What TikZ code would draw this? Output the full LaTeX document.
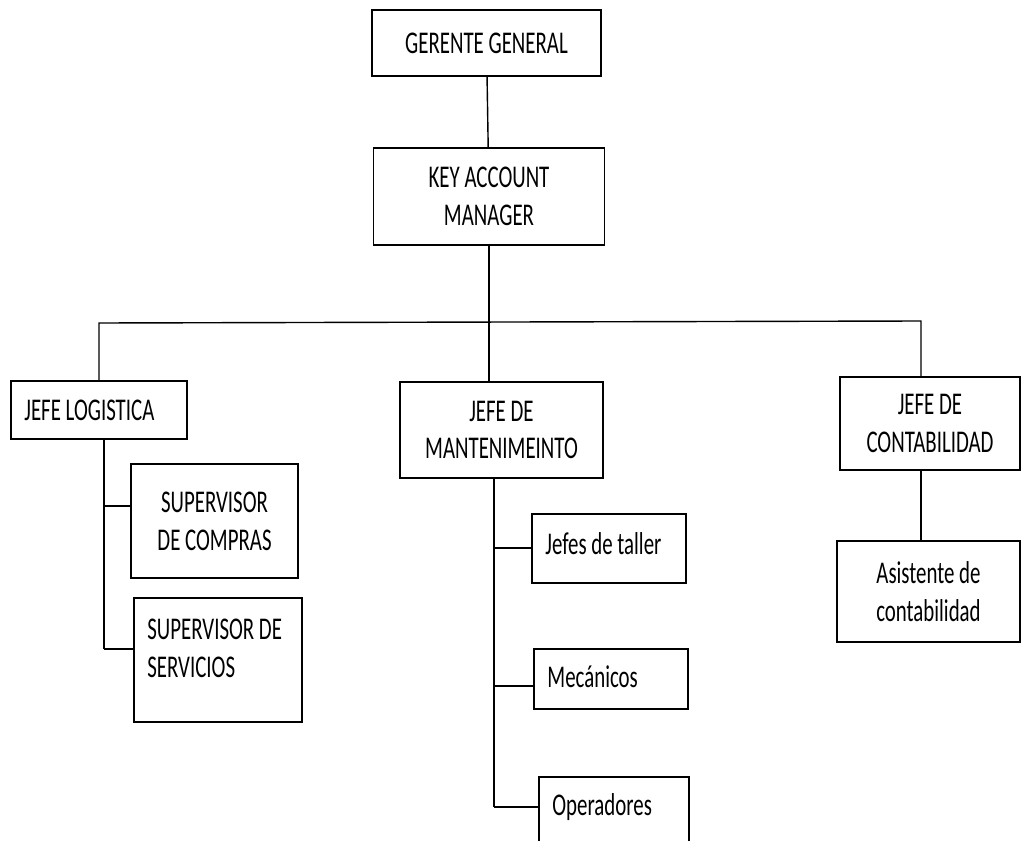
\documentclass[tikz,border=0pt]{standalone}
\usepackage{fontspec}
\setmainfont{Carlito}[FakeStretch=0.66]
\usepackage{tikz}
\tikzset{
  caja/.style={draw, rectangle, line width=1.1pt, align=center, inner sep=0pt,
    font=\fontsize{18}{21.5}\selectfont},
  txtizq/.style={anchor=west, align=left, inner sep=0pt, xshift=0.28cm,
    font=\fontsize{18}{21.5}\selectfont},
  linea/.style={line width=0.8pt}
}
\begin{document}
\begin{tikzpicture}[x=0.02cm, y=-0.02cm]
    \useasboundingbox (0,0) rectangle (1024,841);
    %Gerencia
    \node[caja, minimum width=4.58cm, minimum height=1.32cm] (gerente) at (486.5,43) {GERENTE GENERAL};
    \node[caja, minimum width=4.62cm, minimum height=1.94cm] (kam) at (489,196.5) {KEY ACCOUNT\\MANAGER};
    %Jefaturas
    \node[caja, minimum width=3.52cm, minimum height=1.16cm,
      label={[txtizq]west:JEFE LOGISTICA}] (logistica) at (99,410) {};
    \node[caja, minimum width=4.06cm, minimum height=1.92cm] (mantenimiento) at (501.5,430) {JEFE DE\\MANTENIMEINTO};
    \node[caja, minimum width=3.6cm, minimum height=1.86cm] (contabilidad) at (930,423.5) {JEFE DE\\CONTABILIDAD};
    %Logistica
    \node[caja, minimum width=3.34cm, minimum height=2.28cm] (compras) at (214.5,521) {SUPERVISOR\\DE COMPRAS};
    \node[caja, minimum width=3.36cm, minimum height=2.48cm,
      label={[txtizq, yshift=0.24cm]west:{SUPERVISOR DE\\SERVICIOS}}] (servicios) at (218,660) {};
    %Mantenimiento
    \node[caja, minimum width=3.08cm, minimum height=1.38cm,
      label={[txtizq, yshift=0.1cm]west:Jefes de taller}] (taller) at (609,548.5) {};
    \node[caja, minimum width=3.08cm, minimum height=1.2cm,
      label={[txtizq, yshift=0.04cm]west:Mecánicos}] (mecanicos) at (611,679) {};
    \node[caja, minimum width=3.0cm, minimum height=1.6cm,
      label={[txtizq, yshift=0.2cm]west:Operadores}] (operadores) at (614,817) {};
    %Contabilidad
    \node[caja, minimum width=3.66cm, minimum height=2.02cm] (asistente) at (928.5,591.5) {Asistente de\\contabilidad};
    %Lineas
    \coordinate (busI) at (99,323);
    \coordinate (busD) at (921,321);
    \draw[linea] (gerente) -- (kam);
    \draw[linea] (kam.south) -- (kam.south |- mantenimiento.north);
    \draw[linea] (logistica.north) -- (busI) -- (busD) -- (busD |- contabilidad.north);
    \draw[linea] (busD |- contabilidad.south) -- (busD |- asistente.north);
    \coordinate (rama1) at (104,506);
    \coordinate (rama2) at (104,649);
    \draw[linea] (rama1 |- logistica.south) -- (rama2);
    \draw[linea] (rama1) -- (rama1 -| compras.west);
    \draw[linea] (rama2) -- (rama2 -| servicios.west);
    \coordinate (rama3) at (494,548);
    \coordinate (rama4) at (494,686);
    \coordinate (rama5) at (494,807);
    \draw[linea] (rama3 |- mantenimiento.south) -- (rama5);
    \draw[linea] (rama3) -- (rama3 -| taller.west);
    \draw[linea] (rama4) -- (rama4 -| mecanicos.west);
    \draw[linea] (rama5) -- (rama5 -| operadores.west);
\end{tikzpicture}
\end{document}
